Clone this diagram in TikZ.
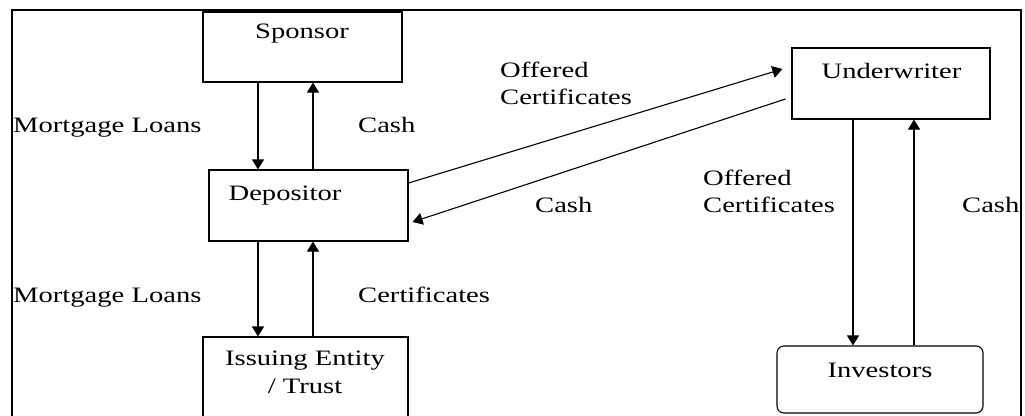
\documentclass[tikz,border=0pt]{standalone}
\usepackage{graphicx}
\usepackage{fontspec}
\setmainfont{Liberation Serif}
\usetikzlibrary{arrows.meta}
\newcommand{\sx}[1]{\scalebox{1.3}[1]{#1}}
\tikzset{
  box/.style={draw, line width=1.1pt, inner sep=0pt, minimum width=#1},
  txt/.style={inner sep=0pt, font=\fontsize{22}{27}\selectfont},
  arr/.style={line width=1.1pt, -{Triangle[length=10pt,width=12pt]}}
}
\begin{document}
\begin{tikzpicture}[x=1pt,y=-1pt]
\useasboundingbox (0,0) rectangle (1025,415);
\fill[white] (0,0) rectangle (1025,415);
% frame
\draw[line width=1.1pt] (12,440) -- (12,10) -- (1021,10) -- (1021,440);
% boxes
\node[box=199pt, minimum height=70pt] (spon) at (302.5,47) {};
\node[box=199pt, minimum height=71pt] (dep) at (308.5,205.5) {};
\node[box=205pt, minimum height=88pt] (iss) at (305.5,381) {};
\node[box=198pt, minimum height=71pt] (und) at (891,83.5) {};
\node[box=206pt, minimum height=67pt, rounded corners=7pt] (inv) at (880,379.5) {};
% box texts
\node[txt, anchor=base] (sponT) at (302,38) {\sx{Sponsor}};
\node[txt, anchor=base] (depT) at (285,200) {\sx{Depositor}};
\node[txt, anchor=base] (issT) at (305,365) {\sx{\begin{tabular}[t]{@{}c@{}}Issuing Entity\\[1pt] / Trust\end{tabular}}};
\node[txt, anchor=base] (undT) at (891.5,78) {\sx{Underwriter}};
\node[txt, anchor=base] (invT) at (880,377) {\sx{Investors}};
% labels
\node[txt, anchor=base west] (ml1) at (13,132) {\sx{Mortgage Loans}};
\node[txt, anchor=base west] (cash1) at (358,132) {\sx{Cash}};
\node[txt, anchor=base west] (ml2) at (13,302) {\sx{Mortgage Loans}};
\node[txt, anchor=base west] (cert) at (358,302) {\sx{Certificates}};
\node[txt, anchor=base west] (oc1) at (500,77) {\sx{\begin{tabular}[t]{@{}l@{}}Offered\\Certificates\end{tabular}}};
\node[txt, anchor=base west] (cash2) at (535,212) {\sx{Cash}};
\node[txt, anchor=base west] (oc2) at (703,185) {\sx{\begin{tabular}[t]{@{}l@{}}Offered\\Certificates\end{tabular}}};
\node[txt, anchor=base west] (cash3) at (962,212) {\sx{Cash}};
% connectors
\draw[arr] ([xshift=-44.5pt]spon.south) -- ([xshift=-50.5pt]dep.north);
\draw[arr] ([xshift=4.5pt]dep.north) -- ([xshift=10.5pt]spon.south);
\draw[arr] ([xshift=-50.5pt]dep.south) -- ([xshift=-47.5pt]iss.north);
\draw[arr] ([xshift=7.5pt]iss.north) -- ([xshift=4.5pt]dep.south);
\draw[arr] ([yshift=22.5pt]dep.east) -- ([xshift=-9pt,yshift=14.5pt]und.west);
\draw[arr] ([xshift=-6pt,yshift=-15.5pt]und.west) -- ([xshift=4pt,yshift=-16.5pt]dep.east);
\draw[arr] ([xshift=-38pt]und.south) -- ([xshift=-27pt]inv.north);
\draw[arr] ([xshift=34pt]inv.north) -- ([xshift=23pt]und.south);
\end{tikzpicture}
\end{document}
